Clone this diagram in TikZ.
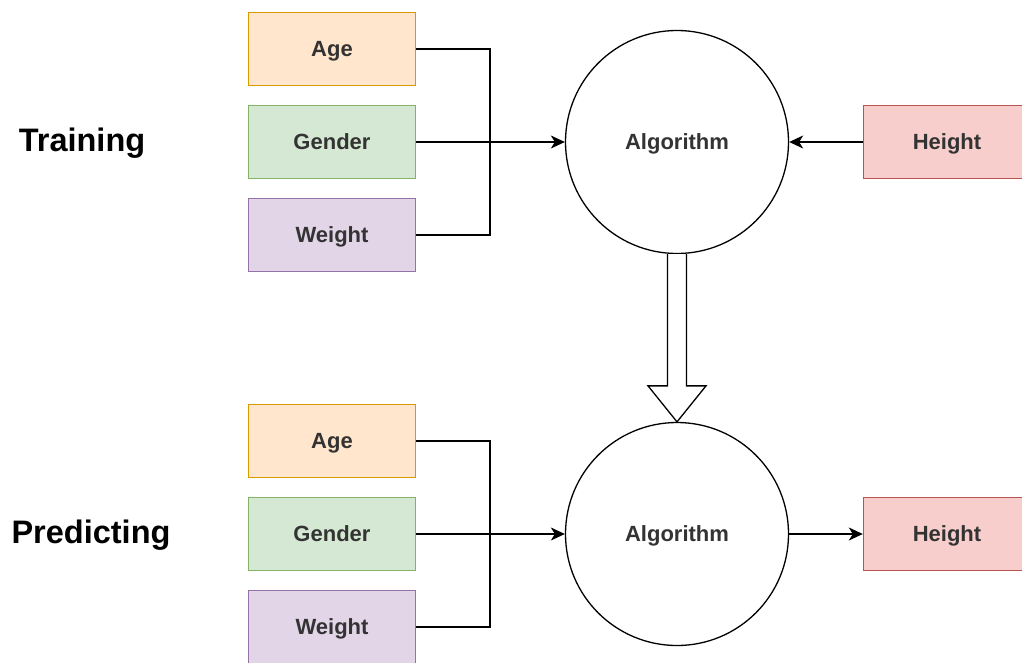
\documentclass[tikz,border=0pt]{standalone}
\usepackage{fontspec}
\setmainfont{Liberation Sans}
\usetikzlibrary{arrows.meta,calc}
\definecolor{orF}{HTML}{FFE6CC}\definecolor{orD}{HTML}{D79B00}
\definecolor{grF}{HTML}{D5E8D4}\definecolor{grD}{HTML}{82B366}
\definecolor{puF}{HTML}{E1D5E7}\definecolor{puD}{HTML}{9673A6}
\definecolor{reF}{HTML}{F8CECC}\definecolor{reD}{HTML}{B85450}
\definecolor{txt}{HTML}{333333}
\begin{document}
\begin{tikzpicture}[x=1pt,y=-1pt,
  box/.style={draw, line width=1.4pt, minimum width=167pt, minimum height=73pt, inner sep=0pt,
    font=\bfseries\fontsize{22}{26}\selectfont, text=txt, text height=15.8pt, text depth=0pt},
  orbox/.style={box, fill=orF, draw=orD},
  grbox/.style={box, fill=grF, draw=grD},
  pubox/.style={box, fill=puF, draw=puD},
  rebox/.style={box, fill=reF, draw=reD},
  alg/.style={circle, draw, line width=1.3pt, minimum size=223pt, inner sep=0pt,
    font=\bfseries\fontsize{22}{26}\selectfont, text=txt, text height=15.8pt, text depth=0pt},
  lbl/.style={font=\bfseries\fontsize{32.5}{38}\selectfont, text=black, text height=23.3pt, text depth=0pt},
  conn/.style={line width=1.3pt, black},
  arr/.style={conn, -{Stealth[length=14pt,width=13pt,inset=4pt]}}
]
\clip (0,0) rectangle (1022,662);
\useasboundingbox (0,0) rectangle (1022,662);
\fill[white] (0,0) rectangle (1022,662);

% Training
\node[lbl] (train) at (82,140) {Training};
\node[orbox] (age1) at (332,49) {Age};
\node[grbox] (gen1) at (332,142) {Gender};
\node[pubox] (wei1) at (332,235) {Weight};
\node[alg] (alg1) at (677,142) {Algorithm};
\node[rebox] (hei1) at (947,142) {Height};
\coordinate (j1) at (490,142);
\draw[conn] (age1.east) -| (j1);
\draw[conn] (wei1.east) -| (j1);
\draw[arr] (gen1.east) -- (alg1.west);
\draw[arr] (hei1.west) -- (alg1.east);

% Predicting
\node[lbl] (pred) at (91,532) {Predicting};
\node[orbox] (age2) at (332,441) {Age};
\node[grbox] (gen2) at (332,534) {Gender};
\node[pubox] (wei2) at (332,627) {Weight};
\node[alg] (alg2) at (677,534) {Algorithm};
\node[rebox] (hei2) at (947,534) {Height};
\coordinate (j2) at (490,534);
\draw[conn] (age2.east) -| (j2);
\draw[conn] (wei2.east) -| (j2);
\draw[arr] (gen2.east) -- (alg2.west);
\draw[arr] (alg2.east) -- (hei2.west);

% block arrow
\draw[line width=1.3pt, fill=white, line join=miter]
  ($(alg1.south)+(-9.5,0)$) -- ($(alg2.north)+(-9.5,-36)$) -- ($(alg2.north)+(-29,-36)$)
  -- (alg2.north) -- ($(alg2.north)+(29,-36)$) -- ($(alg2.north)+(9.5,-36)$)
  -- ($(alg1.south)+(9.5,0)$);
\end{tikzpicture}
\end{document}
